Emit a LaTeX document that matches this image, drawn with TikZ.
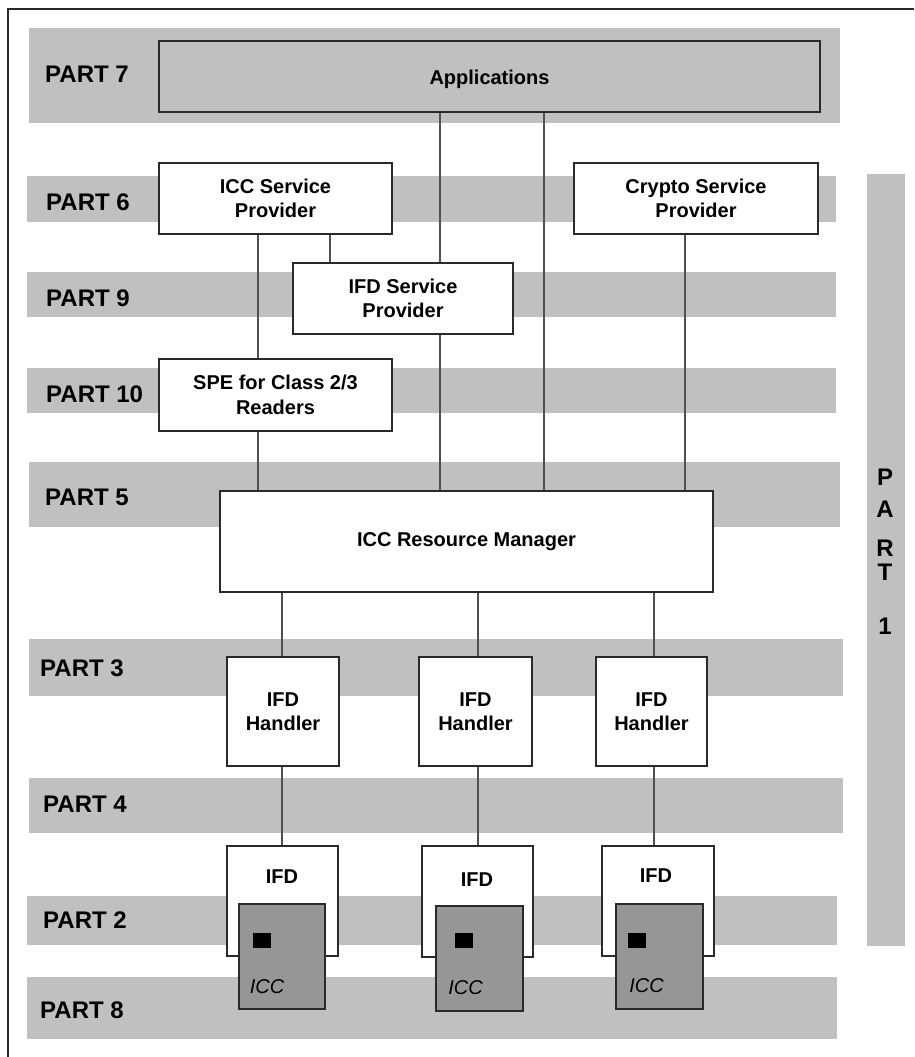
\documentclass[tikz,border=0pt]{standalone}
\usepackage{fontspec}
\setmainfont{Liberation Sans}
\definecolor{bandgray}{HTML}{C0C0C0}
\definecolor{chipgray}{HTML}{969696}
\definecolor{edge}{HTML}{2A2A2A}
\definecolor{wire}{HTML}{505050}
\newcommand\partfont{\fontsize{24}{28}\selectfont\bfseries}
\newcommand\boxfont{\fontsize{20}{24.5}\selectfont\bfseries}
\begin{document}
\begin{tikzpicture}[x=1pt,y=-1pt,
  band/.style={fill=bandgray},
  box/.style={draw=edge, line width=1.3pt, fill=white, align=center,
              inner sep=0pt, font=\boxfont, text=black},
  chipbox/.style={draw=edge, line width=1.3pt, fill=chipgray, inner sep=0pt},
  contact/.style={fill=black, inner sep=0pt, minimum width=18, minimum height=15},
  conn/.style={draw=wire, line width=1.3pt},
  partlabel/.style={anchor=west, font=\partfont, inner sep=0pt, text=black},
  vletter/.style={font=\partfont, inner sep=0pt, text=black},
  boxlabel/.style={font=\boxfont, inner sep=0pt, text=black},
  chiplabel/.style={font=\boxfont\mdseries\itshape, inner sep=0pt, text=black},
]
\useasboundingbox (0,0) rectangle (914,1057);

% outer frame (top and left edges)
\draw[edge, line width=1.5pt] (914,9) -- (8,9) -- (8,1057);

% layer bands
\fill[band] (29,28)  rectangle (840,123);
\fill[band] (27,176) rectangle (836,222);
\fill[band] (27,272) rectangle (836,317);
\fill[band] (27,368) rectangle (836,413);
\fill[band] (29,462) rectangle (840,527);
\fill[band] (29,639) rectangle (843,696);
\fill[band] (29,778) rectangle (843,833);
\fill[band] (27,896) rectangle (837,945);
\fill[band] (27,977) rectangle (837,1039);
% vertical band of part 1
\fill[band] (867,174) rectangle (905,946);

% layer labels
\node[partlabel] (p7)  at (45,74)   {PART 7};
\node[partlabel] (p6)  at (46,202)  {PART 6};
\node[partlabel] (p9)  at (46,298)  {PART 9};
\node[partlabel] (p10) at (46,394)  {PART 10};
\node[partlabel] (p5)  at (45,497)  {PART 5};
\node[partlabel] (p3)  at (40,668)  {PART 3};
\node[partlabel] (p4)  at (43,804)  {PART 4};
\node[partlabel] (p2)  at (43,920)  {PART 2};
\node[partlabel] (p8)  at (40,1010) {PART 8};

\node[vletter] (v1) at (885,477) {P};
\node[vletter] (v2) at (885,509) {A};
\node[vletter] (v3) at (885,548) {R};
\node[vletter] (v4) at (885,572) {T};
\node[vletter] (v5) at (885,626) {1};

% components
\node[box, fill=bandgray, minimum width=661, minimum height=71] (apps) at (489.5,76.5) {};
\node[boxlabel] (appst) at (489.5,79) {Applications};
\node[box, minimum width=233, minimum height=71] (iccsp)  at (275.5,198.5) {ICC Service\\Provider};
\node[box, minimum width=244, minimum height=71] (crypto) at (696,198.5)   {Crypto Service\\Provider};
\node[box, minimum width=220, minimum height=71] (ifdsp)  at (403,298.5)   {IFD Service\\Provider};
\node[box, minimum width=233, minimum height=72] (spe)    at (275.5,395)   {SPE for Class 2/3\\Readers};
\node[box, minimum width=493, minimum height=101] (rm)    at (466.5,541.5) {ICC Resource Manager};

\node[box, minimum width=112, minimum height=109] (h1) at (283,711.5)   {IFD\\Handler};
\node[box, minimum width=113, minimum height=109] (h2) at (475.5,711.5) {IFD\\Handler};
\node[box, minimum width=111, minimum height=109] (h3) at (651.5,711.5) {IFD\\Handler};

\node[box, minimum width=111, minimum height=110] (ifd1) at (282.5,901) {};
\node[box, minimum width=111, minimum height=111] (ifd2) at (477.5,901.5) {};
\node[box, minimum width=112, minimum height=110] (ifd3) at (658,901) {};
\node[boxlabel] (ifd1t) at (282,877) {IFD};
\node[boxlabel] (ifd2t) at (477,880) {IFD};
\node[boxlabel] (ifd3t) at (656,876) {IFD};

% smart cards with their contact pads
\node[chipbox, minimum width=86, minimum height=105] (icc1) at (282,956.5) {};
\node[chipbox, minimum width=87, minimum height=105] (icc2) at (479.5,958.5) {};
\node[chipbox, minimum width=87, minimum height=105] (icc3) at (659.5,956.5) {};
\node[contact] (c1) at (262,940.5) {};
\node[contact] (c2) at (463.5,940.5) {};
\node[contact] (c3) at (637,940.5) {};
\node[chiplabel] (icc1t) at (267,987) {ICC};
\node[chiplabel] (icc2t) at (465.5,988) {ICC};
\node[chiplabel] (icc3t) at (646.5,986) {ICC};

% connector columns
\coordinate (xa) at (258,0);
\coordinate (xb) at (330,0);
\coordinate (xc) at (440,0);
\coordinate (xd) at (544,0);
\coordinate (xe) at (685,0);
\coordinate (xf) at (282,0);
\coordinate (xg) at (478,0);
\coordinate (xh) at (654,0);

% connectors
\draw[conn] (apps.south -| xc) -- (ifdsp.north -| xc);
\draw[conn] (ifdsp.south -| xc) -- (rm.north -| xc);
\draw[conn] (apps.south -| xd) -- (rm.north -| xd);
\draw[conn] (iccsp.south -| xa) -- (spe.north -| xa);
\draw[conn] (spe.south -| xa) -- (rm.north -| xa);
\draw[conn] (iccsp.south -| xb) -- (ifdsp.north -| xb);
\draw[conn] (crypto.south -| xe) -- (rm.north -| xe);
\draw[conn] (rm.south -| xf) -- (h1.north -| xf);
\draw[conn] (rm.south -| xg) -- (h2.north -| xg);
\draw[conn] (rm.south -| xh) -- (h3.north -| xh);
\draw[conn] (h1.south -| xf) -- (ifd1.north -| xf);
\draw[conn] (h2.south -| xg) -- (ifd2.north -| xg);
\draw[conn] (h3.south -| xh) -- (ifd3.north -| xh);
\end{tikzpicture}
\end{document}
